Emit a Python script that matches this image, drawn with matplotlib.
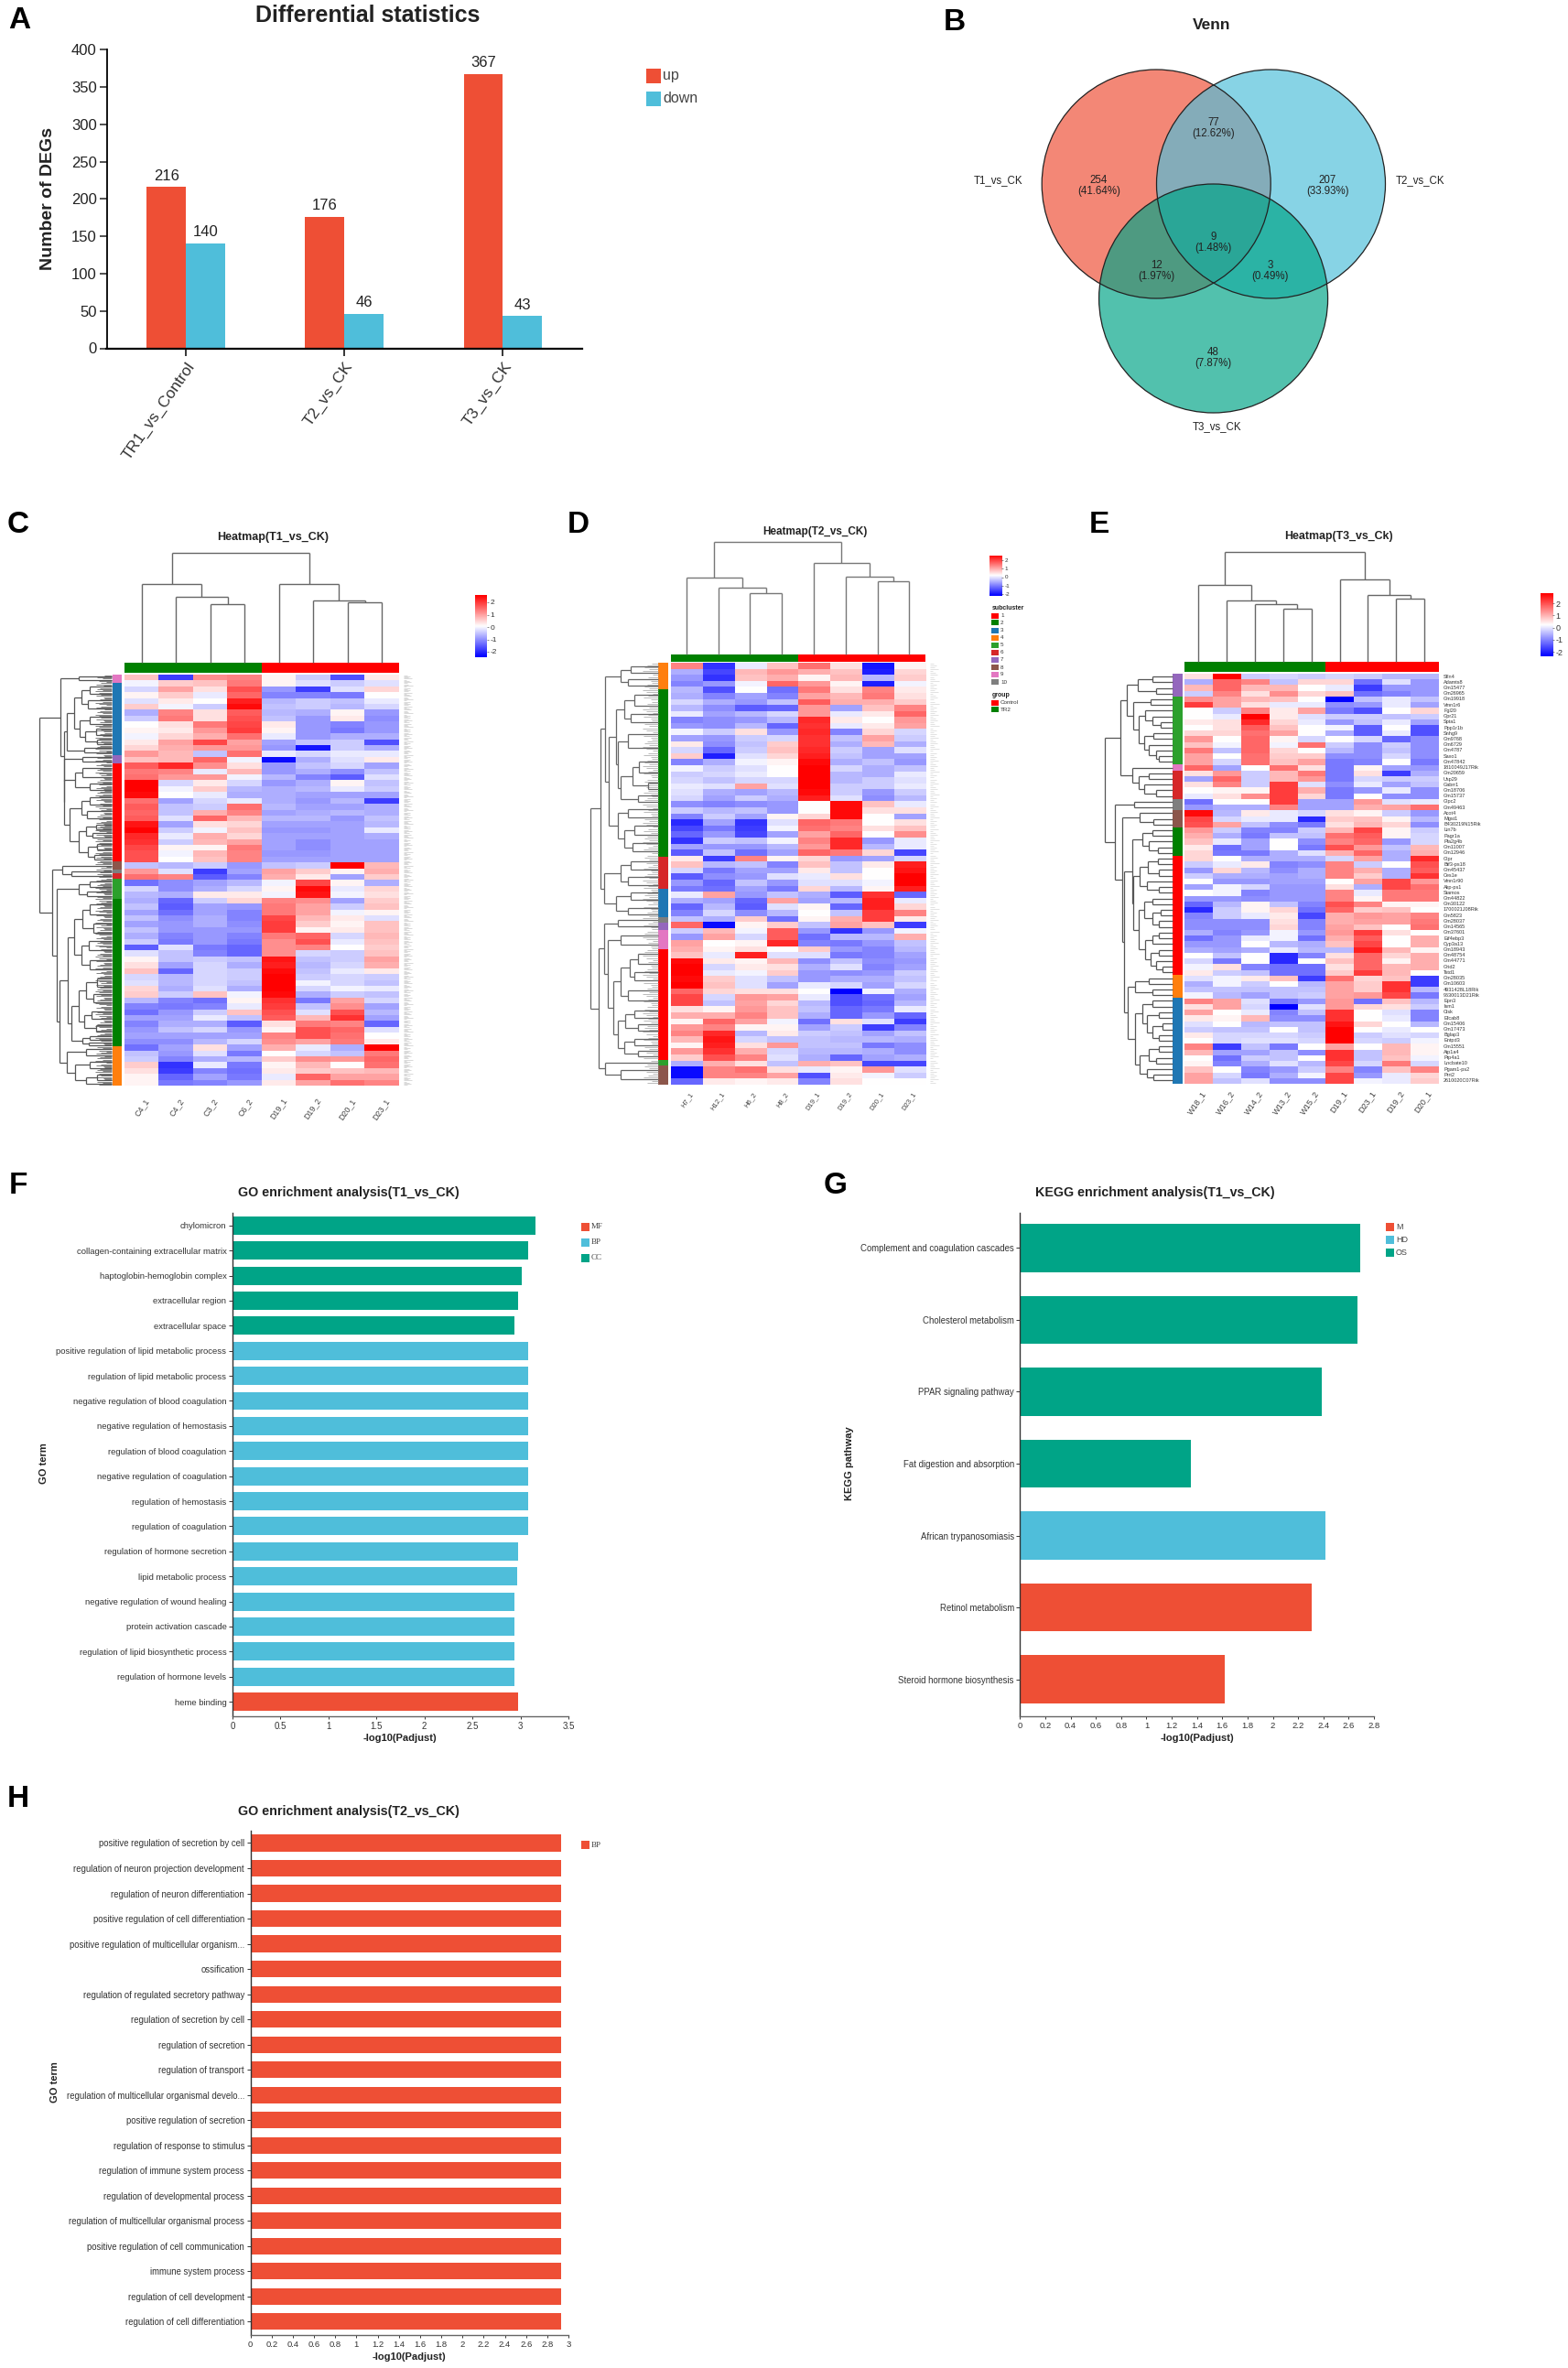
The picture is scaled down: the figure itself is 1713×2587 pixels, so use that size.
import numpy as np
import matplotlib
matplotlib.use('Agg')
import matplotlib.pyplot as plt
from matplotlib.collections import LineCollection
from matplotlib.colors import LinearSegmentedColormap
from matplotlib.patches import Circle, Rectangle

plt.rcParams['font.family'] = ['Liberation Sans', 'DejaVu Sans']

W, H = 1713, 2587

RED = '#EE4F35'
BLUE = '#4FBEDA'
TEAL = '#00A487'

### data
### ==================================================

deg_groups = ['TR1_vs_Control', 'T2_vs_CK', 'T3_vs_CK']
deg_up = [216, 176, 367]
deg_down = [140, 46, 43]

venn_counts = ['254\n(41.64%)', '207\n(33.93%)', '48\n(7.87%)', '77\n(12.62%)',
               '12\n(1.97%)', '3\n(0.49%)', '9\n(1.48%)']
venn_sets = ['T1_vs_CK', 'T2_vs_CK', 'T3_vs_CK']

go1_terms = ['chylomicron', 'collagen-containing extracellular matrix', 'haptoglobin-hemoglobin complex',
             'extracellular region', 'extracellular space', 'positive regulation of lipid metabolic process',
             'regulation of lipid metabolic process', 'negative regulation of blood coagulation',
             'negative regulation of hemostasis', 'regulation of blood coagulation',
             'negative regulation of coagulation', 'regulation of hemostasis', 'regulation of coagulation',
             'regulation of hormone secretion', 'lipid metabolic process', 'negative regulation of wound healing',
             'protein activation cascade', 'regulation of lipid biosynthetic process',
             'regulation of hormone levels', 'heme binding']
go1_vals = [3.16, 3.08, 3.015, 2.975, 2.94, 3.08, 3.08, 3.08, 3.08, 3.08,
            3.08, 3.08, 3.08, 2.975, 2.97, 2.94, 2.94, 2.94, 2.94, 2.975]
go1_class = ['CC'] * 5 + ['BP'] * 14 + ['MF']

kegg_terms = ['Complement and coagulation cascades', 'Cholesterol metabolism', 'PPAR signaling pathway',
              'Fat digestion and absorption', 'African trypanosomiasis', 'Retinol metabolism',
              'Steroid hormone biosynthesis']
kegg_vals = [2.69, 2.67, 2.39, 1.354, 2.415, 2.31, 1.62]
kegg_class = ['OS', 'OS', 'OS', 'OS', 'HD', 'M', 'M']

go2_terms = ['positive regulation of secretion by cell', 'regulation of neuron projection development',
             'regulation of neuron differentiation', 'positive regulation of cell differentiation',
             'positive regulation of multicellular organism...', 'ossification',
             'regulation of regulated secretory pathway', 'regulation of secretion by cell',
             'regulation of secretion', 'regulation of transport',
             'regulation of multicellular organismal develo...', 'positive regulation of secretion',
             'regulation of response to stimulus', 'regulation of immune system process',
             'regulation of developmental process', 'regulation of multicellular organismal process',
             'positive regulation of cell communication', 'immune system process',
             'regulation of cell development', 'regulation of cell differentiation']
go2_vals = [2.935] * 20

# subcluster colours, by number in the legend of panel D
sub = {1: '#FF0000', 2: '#008000', 3: '#1F77B4', 4: '#FF7F0E', 5: '#2CA02C',
       6: '#D62728', 7: '#9467BD', 8: '#8C564B', 9: '#E377C2', 10: '#7F7F7F'}

c_samples = ['C4_1', 'C4_2', 'C3_2', 'C6_2', 'D19_1', 'D19_2', 'D20_1', 'D23_1']
c_groups = [4, 4]
c_clusters = [9, 3, 7, 1, 8, 10, 6, 5, 2, 4]
c_sizes = [7, 63, 7, 85, 7, 3, 5, 17, 128, 34]
c_heat = [
    [.6, -1.9, 1.1, 1.2, .1, -.5, -1.7, .2],
    [-.1, .5, .6, 1.3, .1, -.3, -.5, -.3],
    [-.4, .9, .3, 1.7, -1, -1.9, -.3, .4],
    [.1, .5, -.2, 1.5, -1.2, -1.2, -1.3, 0],
    [-.3, .2, 0, 2.2, -.7, -.5, -.6, -.2],
    [.5, -.1, -.5, 2.4, -.6, -.5, -.7, -.4],
    [-.8, 1.2, .3, 1.6, -.7, -.8, .1, -1],
    [-.5, 1.3, .3, 1.7, -.6, -1, .2, -1.1],
    [0, .3, 1.3, 1.8, .2, -1, -1.2, -1],
    [.1, .2, 1, 1.9, .1, -1, -1.3, -1],
    [-.1, .4, .8, 1.4, -.2, -1, -.8, -.8],
    [.2, .9, 1.8, .9, -.9, -.6, -.5, -1.7],
    [.4, .8, 1, 1, -1, -2.3, -.5, -.8],
    [1, .7, -.6, 1.4, -.2, -.4, -.2, -.2],
    [.6, .7, 1.5, -.1, -2.4, -.8, -.3, .2],
    [1.6, 2.1, 1.1, .3, -1, -.6, -.4, -.9],
    [1.3, 1.2, -.2, .7, -1, -.8, -1.1, -.6],
    [1.4, 1, 1, -.1, -.7, -1.2, -1.6, -.3],
    [2.5, -.4, .2, -.4, -1, -.8, .1, -.6],
    [2.5, -.1, .5, -.7, -.8, -.7, -.2, -.5],
    [2.4, 0, -.2, -.8, -.8, -.9, -.9, -.9],
    [1.4, -.9, -.4, -.2, -.8, -1, -.7, -1.9],
    [1.6, -.6, -.5, 1.4, -.7, -.9, -.9, -.8],
    [1.5, -.6, .8, 1.2, -.9, -.8, -.7, -.8],
    [1.6, -.3, 1.5, .7, -.7, -.7, -1, -.6],
    [2.3, -.9, .3, .4, -.9, -.9, -.9, -.7],
    [2.5, -.5, -.1, .6, -1, -1, -.9, -.2],
    [2.1, -.2, .8, .4, -.9, -.9, -.9, -.8],
    [2, -.5, .7, .9, -.9, -1.1, -.9, -.9],
    [1.8, .1, .1, 1.3, -.9, -1.1, -.9, -.9],
    [1.7, -.1, .7, 1.2, -1, -1, -.9, -.9],
    [1.7, 0, .6, 1.2, -.9, -.9, -.9, -.9],
    [-.6, -.7, -.5, -1, -.6, -.5, 2.5, .7],
    [1, -.3, -1.9, -.9, .9, .5, .1, .8],
    [1.4, 1.2, -1.6, -1.2, .8, .2, -.9, .5],
    [-1.4, -1.1, -.9, -.7, -.1, 1.8, .1, -.8],
    [-.4, -1.1, -.8, -.4, .1, 2.4, -.2, .4],
    [-.7, -.8, .2, .2, -.1, 2.3, -.1, .3],
    [-.8, -1.5, -.5, .4, 1.2, 1.1, -.9, .5],
    [-.6, -1.6, -.9, -1, 1.3, .9, -.5, .6],
    [-.9, -1.4, -.9, -1.2, 1.3, .9, -.1, .1],
    [-.6, -1.1, -.8, -1.2, 1.8, .7, .2, -.3],
    [-.9, -1, -.8, -1.1, 1.9, .5, .1, .6],
    [-.6, -1, -1, -1, 1.9, .1, .2, .6],
    [-.8, -1.2, -1, -1.2, 1.3, 1.5, -.4, .7],
    [-.5, -1.3, -1, -1.3, 1.1, 1.7, -.2, .6],
    [-1.6, -.3, -1.3, -1.5, 1.1, 1.2, 0, .5],
    [-.3, -.6, -1.2, -1.5, 1.1, -.4, -.5, .6],
    [.1, -.6, -.5, -.6, 2.3, -.6, -.5, .9],
    [.3, -.9, -.4, -.8, 2.2, -.7, -.4, .8],
    [.6, -1.5, -.4, -.5, 2.4, -.6, -.2, .2],
    [-.4, -.7, -.4, -.5, 2.5, -.5, -.4, -.5],
    [-.3, -.7, -.4, -.6, 2.5, -.1, -.4, -.6],
    [.4, -.8, -.3, -.8, 2.5, -.4, -.1, -.2],
    [.5, -.5, .6, -.1, 2.4, -.8, -.5, -.6],
    [-.7, -1.2, -1.4, .1, 2, -1.3, .9, -.4],
    [-1.2, -1.3, -1.2, -.2, 1.9, -.6, 1.1, -.9],
    [-1.4, -1, -.5, .6, 1.7, -.3, 1.7, -.7],
    [-.9, -.9, -.2, -.6, 1.6, .7, 2, -.9],
    [-1.2, -.8, -.8, -1.6, .3, 1.3, 1.2, -1.5],
    [-1, -.6, -.4, -1, .1, 1.7, 1.5, -.3],
    [-.9, -.9, -.9, -.9, 1.2, 1.7, 1.4, 0],
    [-1.1, -1.1, -.7, -.4, 1.1, .9, 1.3, .2],
    [-1.4, -.9, .3, -.9, .8, -.2, -.8, 2.5],
    [-.6, -1, -.3, -1.3, 0, -.4, -.6, 1.3],
    [-.5, -1.2, -.8, -.7, .5, 1.1, 1, 1.5],
    [.5, -2, -.2, -1.3, .1, .7, 0, 1.4],
    [.3, -1.9, -1.2, -1.4, .2, .5, .6, .7],
    [.1, -1.5, -.9, -1.3, -.2, 1.5, .9, .9],
    [.1, -1.3, -1.2, -1, .2, .9, 1.4, 1.2],
]

d_samples = ['H7_1', 'H12_1', 'H6_2', 'H8_2', 'D19_1', 'D19_2', 'D20_1', 'D23_1']
d_groups = [4, 4]
d_clusters = [4, 2, 6, 3, 10, 7, 9, 1, 5, 8]
d_sizes = [14, 88, 17, 15, 3, 4, 10, 58, 3, 10]
d_heat = [
    [1.2, -2, -.2, .6, 1.4, .3, -2.3, .1],
    [-.8, -1.8, .7, 1, .8, .6, -2.2, .4],
    [-1, -2, .6, .8, .1, .7, -.7, .5],
    [-1.2, -1, -.1, 1.5, 1, .1, -2.2, -.1],
    [-.7, -1.7, 0, -1.4, 1.3, .3, 1.2, .2],
    [-.8, -1.2, -.9, -1.2, .9, .7, 1.3, .3],
    [-.4, -.8, -1, -.6, 1.6, .8, .8, .5],
    [-.7, -1.1, -1.6, -1.5, 1, -.9, .6, 1.2],
    [-.2, -.9, -.7, -.4, 1, -.2, .2, 1.5],
    [-1.2, -1.1, -1, -.7, 2.1, .2, 0, 1],
    [-1, -1.1, -.7, -1.5, 2, -.2, .2, .9],
    [-.1, -.5, .3, -1, 2.1, -1.2, .4, -.4],
    [-.9, -1, -.5, -.4, 2, -.6, .9, -.5],
    [.2, -1.1, -.6, .5, 2, -.8, .7, -.8],
    [-.4, -1.5, -.5, .6, 2.1, -.5, -.9, -.3],
    [.5, -2.2, -.3, .4, 2.2, -.6, -.9, -.9],
    [-1.2, -.8, -.1, .1, 2.4, -.8, -.6, -1],
    [-.1, -.5, -.3, 0, 2.5, -.4, -.8, -.6],
    [-.5, -.4, -.2, 0, 2.5, -.7, -.8, -.2],
    [-.4, -.6, -.4, -.4, 2.5, -.7, -.5, -.3],
    [-.2, -.3, .9, -.3, 2.5, -.5, -.5, -.2],
    [-.3, -.8, -.9, -.7, 2.4, -.5, -1, -.5],
    [-.4, -.9, -.5, -.8, 2.2, -.3, -1.1, -.7],
    [-1.1, -1.2, -1.1, -1, 0, 2.4, .6, -.2],
    [-.5, -.7, -.6, -1, 0, 2.4, .3, .3],
    [-1.2, -.5, -.9, .1, .4, 2.4, 0, -.9],
    [-2.1, -.9, -2, -.3, 1.5, 1.3, 0, .3],
    [-1.8, -1.3, -1.9, -.1, 1.4, 1.2, .3, .6],
    [-1.5, -1, -1.8, -.9, .9, 1.5, 0, 1.1],
    [-2, -.5, -.6, -.1, 1.2, 2.1, -1, -.2],
    [-.9, -1, -1, -.7, 1, 2.1, -.7, -.2],
    [-1.6, -.6, -1.4, -.9, 1.5, 1.3, .4, -1.8],
    [.2, -1.9, 1.2, .1, .4, -1, -.9, -.4],
    [.6, -.7, -.6, -1.2, .6, -.6, .2, 2.2],
    [-.4, -1.3, -.9, -.9, .2, -.6, 0, 2.3],
    [-1.6, -1.1, -1, -.3, -.2, .3, 0, 2.5],
    [-1, -1.5, -.6, -1, -.3, -.3, -.1, 2.5],
    [-1.3, -1.4, -.9, -1.3, .4, -.7, .1, 2.2],
    [-.2, .9, -1, -.6, -.8, -1.6, 2, -1.5],
    [-.8, -.9, -1.5, .9, -.9, -.7, 2.2, -.2],
    [-1.5, -.7, -1.6, -.3, .1, -1.5, 2.2, .4],
    [-1.2, -.4, -1.1, -.7, 0, -.6, 1.9, 1.2],
    [-.6, -.8, .5, -1.4, .1, .8, 1.9, .2],
    [1.5, -2.4, .1, .5, -.6, .9, .6, -1.9],
    [-.5, .7, -.1, 1.6, -1, -2, -1, -.1],
    [-1, .9, -.4, 1.6, -1.4, -.7, -.7, .8],
    [.9, 0, .1, 2.1, -1.2, -1.3, -1, -.6],
    [.8, .1, .3, 0, .5, -1, -1.2, -.7],
    [.6, -.2, 2.2, -.3, -.3, -1.3, -1.2, -.9],
    [2.4, .2, .1, .7, -1.1, -.6, -1.1, -1],
    [2.5, -.4, .2, .3, -.8, -.3, -1.2, -.9],
    [2.5, -.2, -.1, .5, -1, -1.1, -1, -.5],
    [2.4, .5, -.3, -.6, -1, -.8, -.8, -.6],
    [2.5, .6, -.3, -.9, -.2, -.4, -.9, -.4],
    [1.5, .4, .3, .3, 0, -2.5, -.1, -.8],
    [1.8, -.4, 1, .9, -.2, -1.7, -1.4, -.9],
    [1.8, -.6, .9, .4, -.7, -1.7, -1.5, -.7],
    [.3, .1, 1, .6, -.6, -1.5, -1.3, -.2],
    [.8, .8, 1.2, .6, -.8, -1.5, -1, -1.5],
    [.1, 1.5, .9, -.1, -1.4, .3, -.3, -1.9],
    [1, 1.2, .1, .1, -.9, -.5, -1.9, -1.2],
    [1.2, 2.1, -.7, .2, -.5, -.6, -.9, -.6],
    [.7, 2.3, -.4, -.6, -.6, -.7, -.7, -.8],
    [.1, 2.2, .3, 1, -.6, -.6, -1.3, -1.1],
    [1, 2, .8, -.4, -.7, -.7, -.8, -1.1],
    [.5, 1.7, 1.2, -.3, -.8, -1.5, -.9, -.8],
    [-.8, .8, .3, -.6, .8, .6, -1.8, -1.8],
    [-2.4, 1.2, 1.4, .3, -.2, .1, 1, -.3],
    [-2.4, 1.2, 1.2, .9, -1.7, .2, -.1, -.5],
    [-1.5, .2, .1, .2, -1.2, .3, 0, 0],
]

e_samples = ['W18_1', 'W16_2', 'W14_2', 'W13_2', 'W15_2', 'D19_1', 'D23_1', 'D19_2', 'D20_1']
e_groups = [5, 4]
e_clusters = [7, 5, 9, 6, 10, 8, 2, 1, 4, 3]
e_sizes = [4, 12, 1, 5, 2, 3, 5, 21, 4, 15]
e_genes = ['Sfln4', 'Adamts8', 'Gm15477', 'Gm26965', 'Gm19918', 'Vmn1r6', 'Fgl20', 'Gpr21', 'Spta1', 'Ppp1r1b',
           'Snhg9', 'Gm9768', 'Gm6729', 'Gm4787', 'Saxo1', 'Gm47842', '1810049J17Rik', 'Gm20659', 'Usp29',
           'Gabrr1', 'Gm18706', 'Gm15737', 'Gipc2', 'Gm49463', 'Acot4', 'Mgst1', 'B430219N15Rik', 'Lin7b',
           'Pagr1a', 'Pla2g4b', 'Gm11007', 'Gm12946', 'Gipr', 'Btf3-ps18', 'Gm45437', 'Ces1e', 'Vmn1r90',
           'Akp-ps1', 'Stamos', 'Gm44822', 'Gm30122', '1700021J08Rik', 'Gm5823', 'Gm28037', 'Gm14565', 'Gm37601',
           'Eif4ebp3', 'Cyp3a13', 'Gm18943', 'Gm48754', 'Gm44771', 'Grid2', 'Tstd1', 'Gm28035', 'Gm10603',
           '4931428L18Rik', '9630013D21Rik', 'Epn3', 'Ism1', 'Ctsk', 'Efcab8', 'Gm15406', 'Gm17473', 'Bglap3',
           'Entpd3', 'Gm15551', 'Atp1a4', 'Ptp4a1', 'Lncbate10', 'Pgam1-ps2', 'Prrt2', '2610020C07Rik']
e_heat = [
    [.3, 2.5, -.5, -.4, -.5, -.4, -.5, -.7, -.7],
    [-.8, 1.5, 1.2, -.6, .4, .4, -1.4, -.3, -1],
    [.7, 1.5, .7, .7, 0, -.2, -1.9, -1, -1],
    [-.5, 1.2, .3, 1.1, .4, .6, -1.4, -1.2, -1],
    [1.1, .9, .7, .6, 0, -2.5, -.6, -.2, -.6],
    [1.9, .9, .3, -.2, -.2, -1.1, -1, -.2, -.9],
    [0, -.5, 1.2, .2, .9, -1.3, -1.7, 0, .4],
    [0, -.2, 2.5, .2, -.3, -.5, -.5, -.6, -.5],
    [.2, .3, 2.1, .4, -.2, -1, -.6, -.2, -.9],
    [0, .3, 1.6, .6, 0, -.1, -1.6, 0, -1.7],
    [.4, .4, 1.4, .9, 0, -.8, -1.6, -.2, -1.7],
    [1, 0, 1.5, .1, -.4, 0, -.4, -1.5, -1.1],
    [.6, -.1, 1.5, -.1, 1.4, -.5, -1.1, -.5, -1.1],
    [1.3, -.6, 1.5, .4, 0, -.7, -1.1, -.6, -1.1],
    [.9, 0, 1.4, .5, .5, -1.1, -1.1, -.4, -1.1],
    [.9, -.4, 1.4, .6, .9, -1.3, -1.2, 0, -1.3],
    [1.5, -.9, 0, 1.4, .3, -1.3, .1, -.9, -1],
    [.3, 1, -.5, .7, 1.3, -1.3, .3, -1.9, -.8],
    [-.9, 1.5, -.5, .7, 1, -1.3, -.4, -.5, -.5],
    [.3, 1.2, -.5, 1.9, -.3, -1.1, -.2, -.9, -.6],
    [0, .1, .1, 1.9, .8, -1.3, -1, -.2, -1.1],
    [-.2, .3, 1.1, 1.9, .4, -1.3, 0, -1.1, -1.1],
    [-1.4, 0, 0, 1.9, -.9, -.9, 1, -.3, -.2],
    [-1, -.8, -.8, 1.2, -.9, -.9, .8, .9, 1.4],
    [2.4, -.7, .2, -.2, -.4, .3, .1, -.5, -1],
    [1.8, -.4, -.2, -.2, -2.1, .5, .6, .1, -.7],
    [1.7, .9, -.6, -1.1, -1.3, .3, .7, .4, -1.1],
    [1, -.5, -1.2, -1.2, -.5, .7, 1.8, .1, -.5],
    [.8, -.8, -1.3, -.6, -.6, 1.4, 1.6, .1, -.4],
    [.6, -.2, -.9, 0, -1.1, 1.2, 1.5, -1, -.4],
    [.2, -1.4, -.9, 0, -1.3, 1.7, 1, -.6, .7],
    [.4, -1.3, -1.3, -.8, -.3, .8, 1.5, -.8, .8],
    [.4, 0, -.8, -.8, -.8, -.4, .9, -.8, 2.1],
    [-.5, -.2, .2, -1.2, -1.1, 1.2, -.5, 0, 1.7],
    [-1, .4, -.7, -1.1, -.8, 1.2, .8, -.8, 1.6],
    [-.5, -.8, -.8, -.9, -.8, 1.2, .5, -.8, 2],
    [0, -1, -1, -.9, -.9, 0, .9, 1.8, 1],
    [-.9, -.1, -.4, -1, -1, .3, -.8, 1.8, 1.4],
    [0, -.1, -1.2, -1, -1, 1.2, -.2, 1.3, 1.3],
    [-1, -1, -1.1, -1, -1, 1.2, .1, 1.3, 1.3],
    [-1.5, -.7, .1, -.6, -1.2, 1.7, 1.2, .1, .1],
    [-2.1, -.5, .1, .4, -1.4, 1.5, .5, .6, 0],
    [-1.2, -.5, -.2, .2, -1.8, .8, 1, .9, 1.2],
    [-1.1, -1.1, -1.1, .3, -1.2, .8, .9, .9, 1.3],
    [-1.1, -1.1, -1.1, .4, -1.2, .9, .6, 0, 1.4],
    [-.8, -1.2, -1, -.1, -1, 1, 1.9, .3, 0],
    [-1.4, -1, -.2, -.1, -1.4, .8, 1.6, 0, .8],
    [-1, -1, 0, -.7, -.8, .6, 1.8, 0, .8],
    [-.8, -.9, -.8, -.2, -.7, -.7, 2.2, .7, .1],
    [0, -.6, 0, -2.1, -1.2, .3, 1.5, .4, .8],
    [-.4, -1.3, 0, -2.1, 0, .6, 1.5, .1, .8],
    [-.1, .3, -1.2, -1.4, -1.4, .3, 1.5, .7, .8],
    [.2, -.5, -.6, -1.4, -1.4, .5, 1.9, .7, 0],
    [-.3, -.1, .2, .6, -1.9, 1.4, .4, .6, -1.9],
    [-.8, -.1, -.5, 0, -.7, .9, .5, 2, -1.9],
    [-.6, -.6, -.6, -.6, -.6, .9, .5, 2, -.7],
    [-.1, -.7, -.9, -.6, -.5, .9, 1, 1.8, -1.3],
    [1.2, .9, -.3, -1.3, -1, 1, -1.4, .6, -.7],
    [.3, .9, -.4, -2.5, -.3, 1, .4, .3, -.5],
    [.9, 0, -.2, -1.2, -.6, 2, 0, -.3, -1.2],
    [.2, .1, .7, -1.1, -1.1, 2, 0, -.2, -1.2],
    [-.3, 0, -.7, -.6, -.6, 2.3, .4, 0, -.7],
    [-.5, -.6, -.6, 0, -.6, 2.5, 0, -.2, 0],
    [.2, -.4, -.4, -.4, -.5, 2.5, -.5, -.3, -.4],
    [0, -.4, -.3, -.3, -.4, 2.5, -.4, -.5, -.1],
    [1.2, -1.9, -.6, -1.3, 0, .9, 0, .7, .1],
    [.7, -.9, -.9, -.6, -1.1, 2, -.6, .7, .1],
    [0, -1.4, -.5, -.6, 0, 2, -.6, .6, -.1],
    [.1, -1.2, -.8, -.3, -.7, 1.8, -.4, 1.3, -.4],
    [.6, 0, -1.2, -1, -.5, 1.2, -1.2, .6, 1.2],
    [.9, -.4, -1.3, -.8, -.1, 1.8, -1, -.2, .4],
    [.9, -.6, -.3, -1.1, -1.1, 1.8, -.1, -.2, .5],
]

# dendrograms as nested (height, left, right); an int is a clade of that many rows
c_top = (1, (.716, 1, (.604, 1, (.531, 1, 1))), (.72, 1, (.57, 1, (.546, 1, 1))))
d_top = (1, (.683, 1, (.59, 1, (.545, 1, 1))), (.813, 1, (.694, 1, (.649, 1, 1))))
e_top = (1, (.70, 1, (.556, 1, (.529, 1, (.483, 1, 1)))), (.747, 1, (.61, 1, (.575, 1, 1))))

c_blue = (.62, (.52, (.42, (.3, 6, 7), (.33, 5, 8)), (.44, (.3, 7, 5), (.36, (.22, 4, 6), (.2, 3, 4)))), (.38, 3, 5))
c_red = (.66, (.5, (.4, 8, 7), (.3, 5, 6)),
         (.58, (.42, (.3, 6, 7), (.34, 5, 7)), (.45, (.35, (.22, 4, 4), (.26, 3, 5)), (.33, (.2, 5, 5), (.24, 4, 4)))))
c_green = (.6, (.52, (.4, (.3, 10, 8), (.25, 7, 9)), (.42, (.32, 6, 9), (.3, 8, 8))),
           (.55, (.45, (.35, (.2, 8, 7), (.25, 6, 8)), (.38, (.28, 7, 6), (.22, 5, 6))), (.4, (.3, 3, 2), (.32, 3, 2))))
c_orange = (.62, (.35, 5, 5), (.5, (.3, 6, 6), (.35, (.2, 5, 4), 3)))
c_left = (1, (.71, (.45, 3, 4), (.66, c_blue, (.65, (.4, 3, 4), c_red))),
          (.82, (.68, 7, (.55, 3, 5)), (.75, (.45, (.3, 5, 4), (.34, 4, 4)), (.72, c_green, c_orange))))

d_green = (.73, (.62, (.5, (.35, 6, 5), (.4, 4, 5)), (.6, (.45, 7, 8), (.55, (.38, (.28, 6, 6), (.15, 4, 3)), (.3, 4, 3)))),
           (.6, (.45, 4, 5), (.5, (.35, 4, 5), (.38, 4, 5))))
d_red = (.66, (.55, (.42, (.3, 5, 5), (.35, 4, 5)), (.45, 5, 6)),
         (.6, (.48, (.35, 4, 4), (.3, 3, 4)), (.5, (.35, 4, 3), (.3, 3, 3))))
d_left = (1, (.85, (.78, (.55, (.4, 4, 3), (.45, 3, 4)), d_green),
              (.8, (.55, (.4, 5, 4), (.45, 4, 4)), (.62, (.4, 4, 4), (.45, 4, 3)))),
          (.88, (.8, (.6, 3, 4), (.75, (.55, 5, 5), d_red)), (.78, 3, (.55, 5, 5))))

e_purple = (.52, (.3, 1, 1), (.25, 1, 1))
e_lt = (.58, (.32, 1, 1), (.5, (.4, 1, (.3, 1, (.18, 1, 1))), (.42, (.28, 1, 1), (.35, 1, (.25, 1, (.2, 1, 1))))))
e_crim = (.6, 1, (.5, (.35, 1, 1), (.42, 1, (.25, 1, 1))))
e_brown = (.48, 1, (.28, 1, 1))
e_grn = (.45, (.3, 1, 1), (.35, 1, (.22, 1, 1)))
e_red = (.58, (.48, (.36, (.22, 1, 1), (.2, 1, 1)), (.38, 1, (.2, 1, 1))),
         (.5, (.42, (.3, 1, 1), (.3, (.18, 1, 1), (.2, 1, 1))),
          (.4, (.3, (.2, 1, 1), 1), (.32, (.2, 1, 1), (.24, 1, (.15, 1, 1))))))
e_orange = (.55, (.35, 1, 1), (.3, 1, 1))
e_blue = (.55, (.45, (.3, 1, 1), (.38, (.2, 1, 1), (.3, (.15, 1, 1), (.2, 1, 1)))),
          (.48, (.35, (.2, 1, 1), (.25, 1, 1)), (.38, 1, (.28, 1, 1))))
e_left = (1, (.77, (.67, e_purple, e_lt), e_crim),
          (.85, (.57, 1, 1), (.75, e_brown, (.72, (.6, e_grn, e_red), (.66, e_orange, e_blue)))))

# left edges of the dense leaf band, cycled over the rows of panels C and D
band_edges = [.1, .16, .2, .13, .23, .18, .08, .15, .21, .11]
mark_lengths = [4, 7, 5, 9, 3, 6, 8, 4, 5, 10, 3, 7]

heat_cmap = LinearSegmentedColormap.from_list('bwr2', ['#0000FF', '#FFFFFF', '#FF0000'])


### helpers, all in pixels of the final picture
### ==================================================

fig = plt.figure(figsize=(W / 100, H / 100), dpi=100, facecolor='white')


def px_axes(x0, y0, x1, y1):
    return fig.add_axes([x0 / W, 1 - y1 / H, (x1 - x0) / W, (y1 - y0) / H])


page = fig.add_axes([0, 0, 1, 1], zorder=5)
page.set_xlim(0, W)
page.set_ylim(H, 0)
page.axis('off')
page.patch.set_alpha(0)


def label(x, y, s, size=7, ha='center', va='center', **kw):
    page.text(x, y, s, fontsize=size, ha=ha, va=va, **kw)


def walk(node, start, segs):
    """returns centre (in rows), height, rows used; segs gets (h0,p0,h1,p1) pieces"""
    if isinstance(node, int):
        return start + node / 2, 0, node
    h, a, b = node
    ca, ha, na = walk(a, start, segs)
    cb, hb, nb = walk(b, start + na, segs)
    segs.append((h, ca, h, cb))
    segs.append((ha, ca, h, ca))
    segs.append((hb, cb, h, cb))
    return (ca + cb) / 2, h, na + nb


def dendro_left(tree, x_base, x_root, y0, y1, nrows, color='#555555', lw=0.9):
    segs = []
    walk(tree, 0, segs)
    sx = x_base - x_root
    sy = (y1 - y0) / nrows
    lines = [[(x_base - s[0] * sx, y0 + s[1] * sy), (x_base - s[2] * sx, y0 + s[3] * sy)] for s in segs]
    page.add_collection(LineCollection(lines, colors=color, linewidths=lw))


def dendro_top(tree, y_base, y_root, x0, x1, ncols, color='#666666', lw=1.0):
    segs = []
    walk(tree, 0, segs)
    sy = y_base - y_root
    sx = (x1 - x0) / ncols
    lines = [[(x0 + s[1] * sx, y_base - s[0] * sy), (x0 + s[3] * sx, y_base - s[2] * sy)] for s in segs]
    page.add_collection(LineCollection(lines, colors=color, linewidths=lw))


def leaf_band(x_base, x_root, y0, y1, nrows, color):
    ys = y0 + (np.arange(nrows) + .5) * (y1 - y0) / nrows
    starts = [x_base - band_edges[i % len(band_edges)] * (x_base - x_root) for i in range(nrows)]
    page.hlines(ys, starts, x_base, colors=color, linewidth=0.55)


def gene_marks(x, y0, y1, nrows, color='#BDBDBD'):
    ys = y0 + (np.arange(nrows) + .5) * (y1 - y0) / nrows
    ends = [x + mark_lengths[i % len(mark_lengths)] for i in range(nrows)]
    page.hlines(ys, x, ends, colors=color, linewidth=0.4)


def heat_panel(matrix, box, top_bar, side_bar, groups, clusters, sizes, samples,
               label_y, sample_size, title, title_xy, title_size):
    x0, y0, x1, y1 = box
    ax = px_axes(x0, y0, x1, y1)
    ax.imshow(matrix, aspect='auto', cmap=heat_cmap, vmin=-2.5, vmax=2.5, interpolation='nearest')
    ax.axis('off')

    # group strip above the heatmap, green first
    ncol = sum(groups)
    mid = x0 + (x1 - x0) * groups[0] / ncol
    page.add_patch(Rectangle((x0, top_bar[0]), mid - x0, top_bar[1] - top_bar[0], fc='#008000', ec='none'))
    page.add_patch(Rectangle((mid, top_bar[0]), x1 - mid, top_bar[1] - top_bar[0], fc='#FF0000', ec='none'))

    # subcluster strip on the left
    tot = sum(sizes)
    y = y0
    for c, n in zip(clusters, sizes):
        dy = (y1 - y0) * n / tot
        page.add_patch(Rectangle((side_bar[0], y), side_bar[1] - side_bar[0], dy, fc=sub[c], ec='none'))
        y += dy

    # sample names
    step = (x1 - x0) / ncol
    for i, s in enumerate(samples):
        label(x0 + (i + .5) * step + 3, label_y, s, size=sample_size, ha='right', va='top', rotation=55,
              rotation_mode='anchor', color='#444444')
    label(title_xy[0], title_xy[1], title, size=title_size, fontweight='bold', color='#222222')


def colorbar(x0, y0, x1, y1, v2_y, vm2_y, size):
    per = (vm2_y - v2_y) / 4
    ax = px_axes(x0, y0, x1, y1)
    ax.imshow(np.linspace(1, 0, 100)[:, None], aspect='auto', cmap=heat_cmap, vmin=0, vmax=1,
              extent=[0, 1, 2 - (y1 - v2_y) / per, 2 + (v2_y - y0) / per])
    ax.set_xticks([])
    ax.yaxis.tick_right()
    ax.set_yticks([-2, -1, 0, 1, 2])
    ax.set_yticklabels(['-2', '-1', '0', '1', '2'])
    ax.tick_params(axis='y', labelsize=size, length=1.5, width=.4, pad=1, colors='#333333')
    for sp in ax.spines.values():
        sp.set_visible(False)


def hbar_panel(box, terms, vals, colors, ylim, height, xticks, xlabels, label_size, tick_size):
    ax = px_axes(*box)
    ypos = np.arange(len(terms))
    ax.barh(ypos, vals, height=height, color=colors)
    ax.set_ylim(*ylim)
    ax.set_xlim(xticks[0], xticks[-1])
    ax.set_yticks(ypos)
    ax.set_yticklabels(terms)
    ax.set_xticks(xticks)
    ax.set_xticklabels(xlabels)
    ax.tick_params(axis='y', labelsize=label_size, length=3.2, width=.7, pad=1.5, colors='#333333')
    ax.tick_params(axis='x', labelsize=tick_size, length=2.5, width=.7, pad=1.5, colors='#333333')
    for s in ['top', 'right']:
        ax.spines[s].set_visible(False)
    ax.spines['left'].set_color('#333333')
    ax.spines['bottom'].set_color('#666666')
    ax.spines['left'].set_linewidth(1)
    ax.spines['bottom'].set_linewidth(1)
    return ax


def legend_squares(x0, x1, ys, names, colors, size, family=None):
    side = x1 - x0
    for y, n, c in zip(ys, names, colors):
        page.add_patch(Rectangle((x0, y - side / 2), side, side, fc=c, ec='none'))
        label(x1 + 2, y, n, size=size, ha='left', color='#444444', family=family or plt.rcParams['font.family'])


### panel letters
### ==================================================

for s, x, y in [('A', 21, 22), ('B', 1043, 24), ('C', 20, 573), ('D', 632, 573), ('E', 1201, 573),
                ('F', 20, 1295), ('G', 913, 1295), ('H', 20, 1965)]:
    label(x, y, s, size=24, fontweight='bold', color='black')


### A: DEG counts
### ==================================================

ax = px_axes(116.5, 54.4, 636, 380.5)
pos = np.arange(len(deg_groups))
bar_w = 43 / 174
ax.bar(pos - bar_w / 2, deg_up, bar_w, color=RED)
ax.bar(pos + bar_w / 2, deg_down, bar_w, color=BLUE)
for p, u, d in zip(pos, deg_up, deg_down):
    ax.text(p - bar_w / 2, u + 6, str(u), ha='center', va='bottom', fontsize=12, color='#222222')
    ax.text(p + bar_w / 2, d + 6, str(d), ha='center', va='bottom', fontsize=12, color='#222222')
ax.set_xlim(-.5, 2.5)
ax.set_ylim(0, 400)
ax.set_yticks(np.arange(0, 401, 50))
ax.set_xticks(pos)
ax.set_xticklabels(deg_groups, rotation=55, ha='right', va='top', rotation_mode='anchor',
                   fontsize=12.5, color='#333333')
ax.tick_params(axis='y', labelsize=12, length=5.8, width=1.1, pad=2, colors='#222222')
ax.tick_params(axis='x', length=5.8, width=1.1, pad=3)
for s in ['top', 'right']:
    ax.spines[s].set_visible(False)
ax.spines['left'].set_linewidth(1.3)
ax.spines['bottom'].set_linewidth(1.6)
label(402, 17, 'Differential statistics', size=18, fontweight='bold', color='#222222')
label(53, 217, 'Number of DEGs', size=14, fontweight='bold', rotation=90, color='#222222')
legend_squares(706, 722, [82.5, 107.5], ['up', 'down'], [RED, BLUE], 11.5)


### B: venn
### ==================================================

r = 125
for (cx, cy), c in zip([(1263.2, 201), (1388.5, 201), (1325.6, 326)], [RED, BLUE, TEAL]):
    page.add_patch(Circle((cx, cy), r, fc=c, ec='none', alpha=.68))
for cx, cy in [(1263.2, 201), (1388.5, 201), (1325.6, 326)]:
    page.add_patch(Circle((cx, cy), r, fc='none', ec='#222222', lw=.9))
venn_xy = [(1200.6, 203), (1450.5, 203), (1325.6, 391), (1325.6, 140), (1263.4, 296), (1387.8, 296), (1325.6, 265)]
for s, (x, y) in zip(venn_counts, venn_xy):
    label(x, y, s, size=8.3, color='#222222', linespacing=1.0)
for s, (x, y) in zip(venn_sets, [(1091, 197), (1552, 197), (1330, 466)]):
    label(x, y, s, size=8.3, color='#222222')
label(1324, 27, 'Venn', size=12.5, fontweight='bold', color='#222222')


### C, D, E: heatmaps
### ==================================================

heat_panel(c_heat, (136, 737, 436, 1186), (724, 735), (122.5, 133), c_groups, c_clusters, c_sizes, c_samples,
           1198, 6.4, 'Heatmap(T1_vs_CK)', (298, 587), 9)
leaf_band(122, 42.5, 737, 1186, sum(c_sizes), '#5E5E5E')
dendro_left(c_left, 122, 42.5, 737, 1186, sum(c_sizes))
dendro_top(c_top, 724, 604, 136, 436, 8)
gene_marks(441, 737, 1186, sum(c_sizes))
colorbar(519, 650, 532, 718, 658, 712, 6)

heat_panel(d_heat, (732.5, 724, 1010.7, 1184.5), (715, 722.6), (719, 730), d_groups, d_clusters, d_sizes, d_samples,
           1192, 5.5, 'Heatmap(T2_vs_CK)', (890, 581), 8.5)
leaf_band(719, 645, 724, 1184.5, sum(d_sizes), '#A8A8A8')
dendro_left(d_left, 719, 645, 724, 1184.5, sum(d_sizes), color='#666666')
dendro_top(d_top, 715, 592, 732.5, 1010.7, 8, color='#777777')
gene_marks(1016, 724, 1184.5, sum(d_sizes), color='#CCCCCC')
colorbar(1081, 606.5, 1094, 651, 612, 649, 4.5)
label(1084, 664, 'subcluster', size=5, ha='left', fontweight='bold', color='#222222')
for y, c in zip([672.6, 680.4, 688.7, 696.5, 704.7, 712.5, 720.8, 729, 736.9, 745], range(1, 11)):
    page.add_patch(Rectangle((1083, y - 3), 8, 6, fc=sub[c], ec='none'))
    label(1093, y, str(c), size=4.5, ha='left', color='#333333')
label(1084, 759.4, 'group', size=5, ha='left', fontweight='bold', color='#222222')
for y, n, c in [(767.6, 'Control', '#FF0000'), (775.4, 'TR2', '#008000')]:
    page.add_patch(Rectangle((1083, y - 3), 8, 6, fc=c, ec='none'))
    label(1093, y, n, size=4.5, ha='left', color='#333333')

heat_panel(e_heat, (1294, 736, 1571.5, 1183.6), (723, 733.7), (1281, 1291.5), e_groups, e_clusters, e_sizes, e_samples,
           1190, 6.6, 'Heatmap(T3_vs_Ck)', (1462, 586), 8.9)
dendro_left(e_left, 1281, 1207, 736, 1183.6, sum(e_sizes))
dendro_top(e_top, 723, 603, 1294, 1571.5, 9)
row_h = (1183.6 - 736) / len(e_genes)
for i, g in enumerate(e_genes):
    label(1577, 736 + (i + .5) * row_h, g, size=4, ha='left', color='#333333')
colorbar(1682.5, 648, 1696, 717, 659, 712, 6.5)


### F, G, H: enrichment bars
### ==================================================

cls_col = {'MF': RED, 'M': RED, 'BP': BLUE, 'HD': BLUE, 'CC': TEAL, 'OS': TEAL}

hbar_panel((254, 1325, 621, 1875), go1_terms, go1_vals, [cls_col[c] for c in go1_class], (19.58, -.504), .73,
           [0, .5, 1, 1.5, 2, 2.5, 3, 3.5], ['0', '0.5', '1', '1.5', '2', '2.5', '3', '3.5'], 6.8, 7)
label(381, 1303, 'GO enrichment analysis(T1_vs_CK)', size=10.3, fontweight='bold', color='#222222')
label(48, 1599, 'GO term', size=8, fontweight='bold', rotation=90, color='#222222')
label(437, 1899, '-log10(Padjust)', size=8, fontweight='bold', color='#222222')
legend_squares(635, 644, [1340, 1357, 1374], ['MF', 'BP', 'CC'], [RED, BLUE, TEAL], 6.5, family='Liberation Serif')

g_ticks = [round(.2 * i, 1) for i in range(15)]
hbar_panel((1114.3, 1325, 1501, 1875), kegg_terms, kegg_vals, [cls_col[c] for c in kegg_class], (6.513, -.487), .67,
           g_ticks, ['%g' % t for t in g_ticks], 6.9, 6.8)
label(1261.5, 1303, 'KEGG enrichment analysis(T1_vs_CK)', size=10.3, fontweight='bold', color='#222222')
label(928, 1599, 'KEGG pathway', size=8, fontweight='bold', rotation=90, color='#222222')
label(1308, 1899, '-log10(Padjust)', size=8, fontweight='bold', color='#222222')
legend_squares(1514, 1523, [1340, 1354, 1368], ['M', 'HD', 'OS'], [RED, BLUE, TEAL], 6.5)

h_ticks = [round(.2 * i, 1) for i in range(16)]
hbar_panel((273.6, 2000, 621, 2551), go2_terms, go2_vals, [RED] * 20, (19.53, -.49), .66,
           h_ticks, ['%g' % t for t in h_ticks], 6.9, 6.8)
label(381, 1979, 'GO enrichment analysis(T2_vs_CK)', size=10.3, fontweight='bold', color='#222222')
label(60, 2275, 'GO term', size=8, fontweight='bold', rotation=90, color='#222222')
label(447, 2575, '-log10(Padjust)', size=8, fontweight='bold', color='#222222')
legend_squares(635, 644, [2015.5], ['BP'], [RED], 6.5, family='Liberation Serif')

fig.savefig('out.png', dpi=100, facecolor='white')
